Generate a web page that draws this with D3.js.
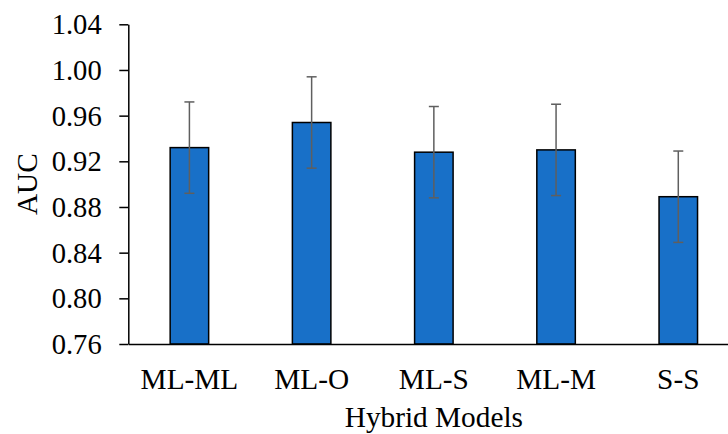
<!DOCTYPE html>
<html><head><meta charset="utf-8">
<script src="https://cdn.jsdelivr.net/npm/d3@7"></script>
<style>body{margin:0;background:#fff}svg{display:block}</style>
</head><body><svg id="c" width="728" height="434"></svg>
<script>
const categories = ["ML-ML","ML-O","ML-S","ML-M","S-S"];
const aucValues = [0.932, 0.954, 0.928, 0.930, 0.889];
const aucErrors = [0.040, 0.040, 0.040, 0.040, 0.040];
const yTicks = [0.76,0.80,0.84,0.88,0.92,0.96,1.00,1.04];

const svg = d3.select("#c");
const mLeft = 128.3, mRight = 739.4, mTop = 24.3, mBottom = 344;
const x = d3.scaleBand().domain(categories).range([mLeft, mRight]).paddingInner(0.685).paddingOuter(0.3425);
const y = d3.scaleLinear().domain([0.76, 1.04]).range([mBottom, mTop]);
const fs = "28.6px";
const fsL = "29.3px";
const ff = '"Liberation Serif", "Times New Roman", serif';

// bars
svg.append("g").selectAll("rect").data(categories).join("rect")
  .attr("x", d => x(d)).attr("width", x.bandwidth())
  .attr("y", (d,i) => y(aucValues[i])).attr("height", (d,i) => y(0.76) - y(aucValues[i]))
  .attr("fill", "#1870c8").attr("stroke", "#000").attr("stroke-width", 1.5);

// error bars
const eb = svg.append("g").attr("stroke", "#5f5f5f").attr("stroke-width", 1.5);
categories.forEach((c,i) => {
  const cx = x(c) + x.bandwidth()/2;
  const y1 = y(aucValues[i] + aucErrors[i]), y2 = y(aucValues[i] - aucErrors[i]);
  eb.append("line").attr("x1", cx).attr("x2", cx).attr("y1", y1).attr("y2", y2);
  eb.append("line").attr("x1", cx-5).attr("x2", cx+5).attr("y1", y1).attr("y2", y1);
  eb.append("line").attr("x1", cx-5).attr("x2", cx+5).attr("y1", y2).attr("y2", y2);
});

// y axis
const ya = svg.append("g").attr("transform", `translate(${mLeft},0)`)
  .call(d3.axisLeft(y).tickValues(yTicks).tickFormat(d3.format(".2f")).tickSize(9).tickSizeOuter(0).tickPadding(17.6));
ya.select(".domain").attr("stroke", "#000").attr("stroke-width", 1.5);
ya.selectAll(".tick line").attr("stroke", "#000").attr("stroke-width", 1.5);
ya.selectAll(".tick text").style("font-size", fs).style("font-family", ff).attr("fill", "#000").attr("dy", "0.33em");

// x axis
const xa = svg.append("g").attr("transform", `translate(0,${mBottom})`)
  .call(d3.axisBottom(x).tickSize(0).tickSizeOuter(0).tickPadding(0));
xa.select(".domain").attr("stroke", "#000").attr("stroke-width", 1.5);
xa.selectAll(".tick text").style("font-size", fsL).style("font-family", ff).attr("fill", "#000")
  .attr("y", 388.7 - mBottom).attr("dy", 0);

// titles
svg.append("text").attr("x", (mLeft+mRight)/2).attr("y", 427.3).attr("text-anchor", "middle")
  .style("font-size", fsL).style("font-family", ff).attr("fill", "#000").text("Hybrid Models");
svg.append("text").attr("transform", `translate(36.7,${(mTop+mBottom)/2}) rotate(-90)`).attr("text-anchor", "middle")
  .style("font-size", fsL).style("font-family", ff).attr("fill", "#000").text("AUC");
</script></body></html>
